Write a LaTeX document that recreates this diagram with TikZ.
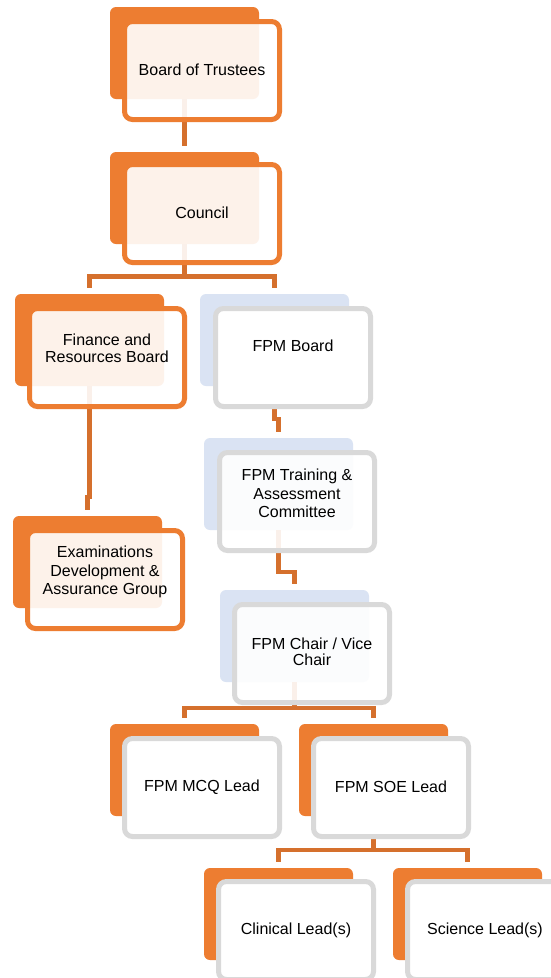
\documentclass[tikz,border=0pt]{standalone}
\usepackage{fontspec}
\setmainfont{Liberation Sans}
\usetikzlibrary{calc}
\definecolor{accent}{HTML}{ED7D31}
\definecolor{connc}{HTML}{D5702D}
\definecolor{paleblue}{HTML}{DAE3F3}
\definecolor{greyb}{HTML}{D9D9D9}
\tikzset{
  backbox/.style={rectangle, draw=none, rounded corners=6pt, minimum width=149pt, minimum height=92pt, inner sep=0pt},
  backo/.style={backbox, fill=accent},
  backb/.style={backbox, fill=paleblue},
  frontbox/.style={rectangle, line width=5pt, rounded corners=8pt, minimum width=155pt, minimum height=98pt, inner sep=0pt},
  fronto/.style={frontbox, draw=accent, fill=white, fill opacity=0.9},
  frontg/.style={frontbox, draw=greyb, fill=white, fill opacity=0.9},
  frontw/.style={frontbox, draw=greyb, fill=white},
  txt/.style={align=center, inner sep=0pt, font=\fontsize{16pt}{18.5pt}\selectfont, text=black},
  conn/.style={draw=connc, line width=4.8pt, line join=miter}
}
\begin{document}
\begin{tikzpicture}[x=1pt, y=-1pt]
\clip (0,0) rectangle (551,978);
\fill[white] (0,0) rectangle (551,978);
% backing shapes
\node[backo] (b1) at (184.5,53) {};
\node[backo] (b2) at (184.5,198) {};
\node[backo] (b3) at (89.5,340) {};
\node[backb] (b4) at (274.5,340) {};
\node[backo] (b5) at (87.5,562) {};
\node[backb] (b6) at (278.5,484) {};
\node[backb] (b7) at (294.5,636) {};
\node[backo] (b8) at (184.5,770) {};
\node[backo] (b9) at (373.5,770) {};
\node[backo] (b10) at (278.5,914) {};
\node[backo] (b11) at (467.5,914) {};
% connector end points and elbows
\coordinate (e2) at ($(b2.north)+(0pt,6pt)$);
\coordinate (e3) at ($(b3.north)+(0pt,6pt)$);
\coordinate (e4) at ($(b4.north)+(0pt,6pt)$);
\coordinate (e5) at ($(b5.north)+(0pt,6pt)$);
\coordinate (e6) at ($(b6.north)+(0pt,6pt)$);
\coordinate (e7) at ($(b7.north)+(0pt,6pt)$);
\coordinate (e8) at ($(b8.north)+(0pt,6pt)$);
\coordinate (e9) at ($(b9.north)+(0pt,6pt)$);
\coordinate (e10) at ($(b10.north)+(0pt,6pt)$);
\coordinate (e11) at ($(b11.north)+(0pt,6pt)$);
\coordinate (m2) at (184.5,276.5);
\coordinate (m3) at (89.5,497);
\coordinate (m4) at (274.5,419);
\coordinate (m6) at (278.5,572);
\coordinate (m7) at (294.5,708);
\coordinate (m9) at (373.5,850);
% connectors
\draw[conn] (b1.south) -- (e2);
\draw[conn] (b2.south) -- (m2);
\draw[conn] (e3) |- (m2) -| (e4);
\draw[conn] (b3.south) -- (m3) -| (e5);
\draw[conn] (b4.south) -- (m4) -| (e6);
\draw[conn] (b6.south) -- (m6) -| (e7);
\draw[conn] (b7.south) -- (m7);
\draw[conn] (e8) |- (m7) -| (e9);
\draw[conn] (b9.south) -- (m9);
\draw[conn] (e10) |- (m9) -| (e11);
% front shapes
\node[fronto] (f1) at (202,70.5) {};
\node[fronto] (f2) at (202,213.5) {};
\node[fronto] (f3) at (107,357.5) {};
\node[frontw] (f4) at (293,357.5) {};
\node[fronto] (f5) at (105,579.5) {};
\node[frontg] (f6) at (297,501.5) {};
\node[frontg] (f7) at (312,653.5) {};
\node[frontw] (f8) at (202,787.5) {};
\node[frontw] (f9) at (391,787.5) {};
\node[frontw] (f10) at (296,930.5) {};
\node[frontw] (f11) at (485,930.5) {};
% texts
\node[txt] (t1) at (202,70) {Board of Trustees};
\node[txt] (t2) at (202,213) {Council};
\node[txt] (t3) at (107,348.5) {Finance and\\[-1.5pt]Resources Board};
\node[txt] (t4) at (293,346) {FPM Board};
\node[txt] (t5) at (105,572) {Examinations\\Development \&\\Assurance Group};
\node[txt] (t6) at (297,493.5) {FPM Training \&\\Assessment\\Committee};
\node[txt] (t7) at (312,652) {FPM Chair / Vice\\[-2.5pt]Chair};
\node[txt] (t8) at (202,787) {FPM MCQ Lead};
\node[txt] (t9) at (391,787) {FPM SOE Lead};
\node[txt] (t10) at (296,930) {Clinical Lead(s)};
\node[txt] (t11) at (485,930) {Science Lead(s)};
\end{tikzpicture}
\end{document}
